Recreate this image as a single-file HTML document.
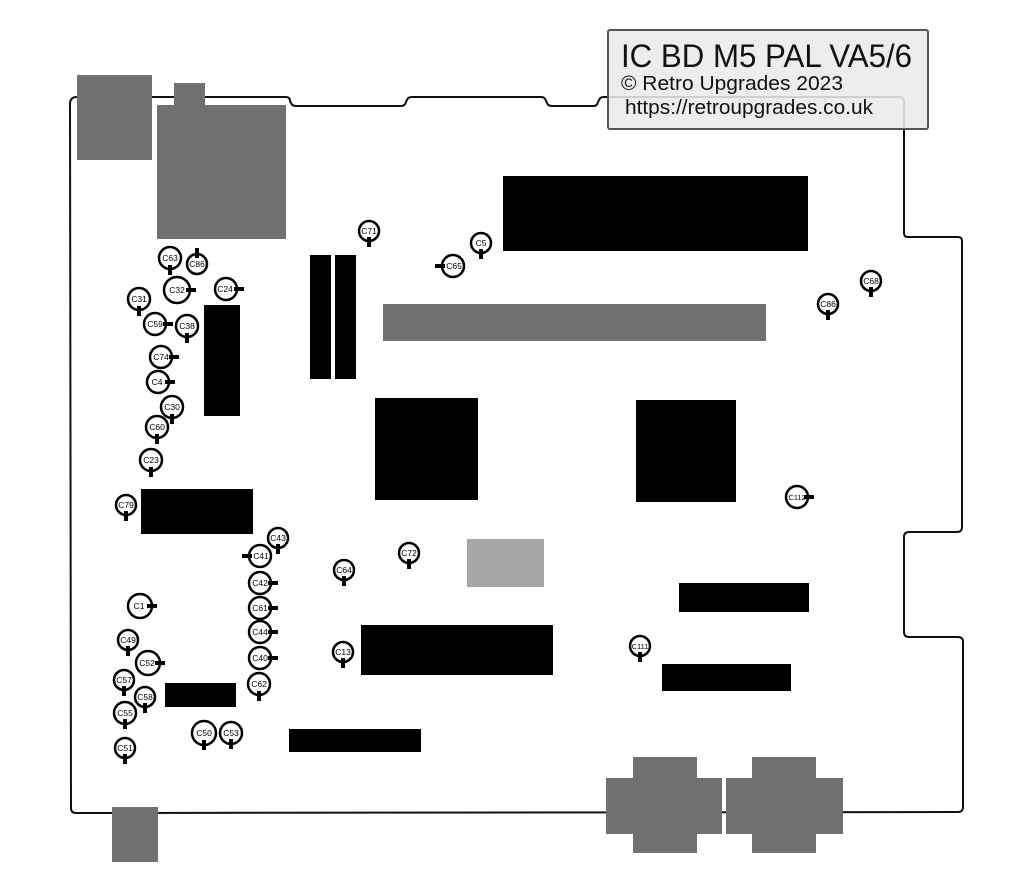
<!DOCTYPE html>
<html><head><meta charset="utf-8"><style>html,body{margin:0;padding:0;background:#fff}svg{display:block}</style></head>
<body>
<svg width="1024" height="871" viewBox="0 0 1024 871" xmlns="http://www.w3.org/2000/svg" font-family="Liberation Sans, sans-serif">
<rect width="1024" height="871" fill="#fff"/>
<!-- board outline -->
<path d="M70,104 Q70,97 77,97 L286,97 Q290,97 290,101 L291,103 Q292,106 296,106 L401,106 Q405,106 406,102 L407,100 Q408,97 412,97 L541,97 Q545,97 546,101 L547,103 Q548,106 552,106 L594,106 Q597,106 598,102 L599,100 Q600,97 604,97 L899,97 Q904,97 904,102 L904,233 Q904,237 908,237 L958,237 Q962,237 962,241 L962,527 Q962,532 957,532 L909,532 Q904,532 904,537 L904,632 Q904,637 909,637 L958,637 Q963,637 963,642 L963,807 Q963,812 958,812 L76,813 Q71,813 71,808 Z" fill="none" stroke="#111" stroke-width="2"/>
<!-- gray parts -->
<g fill="#707070">
<rect x="77" y="75" width="75" height="85"/>
<rect x="174" y="83" width="31" height="24"/>
<rect x="157" y="105" width="129" height="134"/>
<rect x="383" y="304" width="383" height="37"/>
<rect x="112" y="807" width="46" height="55"/>
<rect x="633" y="757" width="64" height="96"/><rect x="606" y="778" width="116" height="56"/>
<rect x="752" y="757" width="64" height="96"/><rect x="726" y="778" width="117" height="56"/>
</g>
<rect x="467" y="539" width="77" height="48" fill="#a6a6a6"/>
<!-- black ICs -->
<g fill="#000">
<rect x="503" y="176" width="305" height="75"/>
<rect x="375" y="398" width="103" height="102"/>
<rect x="636" y="400" width="100" height="102"/>
<rect x="310" y="255" width="21" height="124"/>
<rect x="335" y="255" width="21" height="124"/>
<rect x="204" y="305" width="36" height="111"/>
<rect x="141" y="489" width="112" height="45"/>
<rect x="679" y="583" width="130" height="29"/>
<rect x="361" y="625" width="192" height="50"/>
<rect x="662" y="664" width="129" height="27"/>
<rect x="165" y="683" width="71" height="24"/>
<rect x="289" y="729" width="132" height="23"/>
</g>
<!-- capacitors -->
<g font-size="8.5" text-anchor="middle" fill="#000">
<g fill="none" stroke="#000" stroke-width="2.5">
<circle cx="369" cy="231" r="10"/><circle cx="481" cy="243" r="10"/><circle cx="453" cy="266" r="11"/>
<circle cx="871" cy="281" r="10"/><circle cx="828" cy="304" r="10"/><circle cx="797" cy="497" r="11"/>
<circle cx="170" cy="258" r="11"/><circle cx="197" cy="264" r="10"/><circle cx="177" cy="290" r="13"/>
<circle cx="226" cy="289" r="11"/><circle cx="139" cy="299" r="11"/><circle cx="155" cy="324" r="11"/>
<circle cx="187" cy="326" r="11"/><circle cx="161" cy="357" r="11"/><circle cx="158" cy="382" r="11"/>
<circle cx="172" cy="407" r="11"/><circle cx="157" cy="427" r="11"/><circle cx="151" cy="460" r="11"/>
<circle cx="126" cy="505" r="10"/><circle cx="278" cy="538" r="10"/><circle cx="260" cy="556" r="11"/>
<circle cx="260" cy="583" r="11"/><circle cx="260" cy="608" r="11"/><circle cx="260" cy="632" r="11"/>
<circle cx="260" cy="658" r="11"/><circle cx="259" cy="684" r="11"/><circle cx="344" cy="570" r="10"/>
<circle cx="409" cy="553" r="10"/><circle cx="343" cy="652" r="10"/><circle cx="640" cy="646" r="10"/>
<circle cx="140" cy="606" r="12"/><circle cx="128" cy="640" r="10"/><circle cx="148" cy="663" r="12"/>
<circle cx="124" cy="680" r="10"/><circle cx="145" cy="697" r="10"/><circle cx="125" cy="713" r="11"/>
<circle cx="125" cy="748" r="10"/><circle cx="204" cy="733" r="12"/><circle cx="231" cy="733" r="11"/>
</g>
<g stroke="none">
<rect x="367" y="237" width="4" height="10"/><rect x="479" y="249" width="4" height="10"/><rect x="435" y="264" width="10" height="4"/>
<rect x="869" y="287" width="4" height="10"/><rect x="826" y="310" width="4" height="10"/><rect x="804" y="495" width="10" height="4"/>
<rect x="168" y="265" width="4" height="10"/><rect x="195" y="248" width="4" height="10"/><rect x="186" y="288" width="10" height="4"/>
<rect x="234" y="287" width="10" height="4"/><rect x="137" y="306" width="4" height="10"/><rect x="163" y="322" width="10" height="4"/>
<rect x="185" y="333" width="4" height="10"/><rect x="169" y="355" width="10" height="4"/><rect x="165" y="380" width="10" height="4"/>
<rect x="170" y="414" width="4" height="10"/><rect x="155" y="434" width="4" height="10"/><rect x="149" y="467" width="4" height="10"/>
<rect x="124" y="511" width="4" height="10"/><rect x="276" y="544" width="4" height="10"/><rect x="242" y="554" width="10" height="4"/>
<rect x="268" y="581" width="10" height="4"/><rect x="268" y="606" width="10" height="4"/><rect x="268" y="630" width="10" height="4"/>
<rect x="268" y="656" width="10" height="4"/><rect x="257" y="691" width="4" height="10"/><rect x="342" y="576" width="4" height="10"/>
<rect x="407" y="559" width="4" height="10"/><rect x="341" y="658" width="4" height="10"/><rect x="638" y="652" width="4" height="10"/>
<rect x="147" y="604" width="10" height="4"/><rect x="126" y="646" width="4" height="10"/><rect x="155" y="661" width="10" height="4"/>
<rect x="122" y="686" width="4" height="10"/><rect x="143" y="703" width="4" height="10"/><rect x="123" y="719" width="4" height="10"/>
<rect x="123" y="754" width="4" height="10"/><rect x="202" y="740" width="4" height="10"/><rect x="229" y="739" width="4" height="10"/>
</g>
<text x="369" y="234">C71</text><text x="481" y="246">C5</text><text x="454" y="269">C65</text>
<text x="871" y="284">C68</text><text x="828" y="307">C86</text><text x="797" y="500" font-size="7.5">C112</text>
<text x="170" y="261">C63</text><text x="197" y="267">C86</text><text x="177" y="293">C32</text>
<text x="225" y="292">C24</text><text x="139" y="302">C31</text><text x="155" y="327">C59</text>
<text x="187" y="329">C38</text><text x="161" y="360">C74</text><text x="157" y="385">C4</text>
<text x="172" y="410">C30</text><text x="157" y="430">C60</text><text x="151" y="463">C23</text>
<text x="126" y="508">C79</text><text x="278" y="541">C43</text><text x="261" y="559">C41</text>
<text x="260" y="586">C42</text><text x="260" y="611">C61</text><text x="260" y="635">C44</text>
<text x="260" y="661">C40</text><text x="259" y="687">C62</text><text x="344" y="573">C64</text>
<text x="409" y="556">C72</text><text x="343" y="655">C13</text><text x="640" y="649" font-size="7.5">C111</text>
<text x="139" y="609">C1</text><text x="128" y="643">C49</text><text x="147" y="666">C52</text>
<text x="124" y="683">C57</text><text x="145" y="700">C58</text><text x="125" y="716">C55</text>
<text x="125" y="751">C51</text><text x="204" y="736">C50</text><text x="231" y="736">C53</text>
</g>
<!-- title box -->
<rect x="608" y="30" width="320" height="99" rx="2" fill="#ebebeb" fill-opacity="0.88" stroke="#555" stroke-width="2"/>
<text x="621" y="67" font-size="32" textLength="291" lengthAdjust="spacingAndGlyphs" fill="#111">IC BD M5 PAL VA5/6</text>
<text x="621" y="90" font-size="20" textLength="222" lengthAdjust="spacingAndGlyphs" fill="#111">© Retro Upgrades 2023</text>
<text x="625" y="114" font-size="20" textLength="248" lengthAdjust="spacingAndGlyphs" fill="#111">https://retroupgrades.co.uk</text>
</svg>
</body></html>
